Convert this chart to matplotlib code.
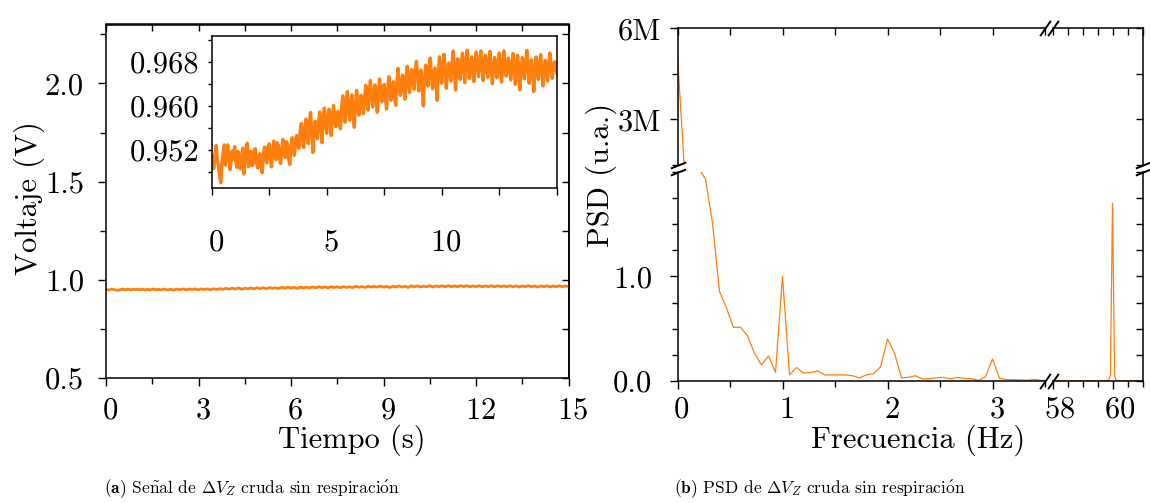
import numpy as np
import matplotlib.pyplot as plt
import matplotlib.transforms as mtransforms
from matplotlib.ticker import MultipleLocator, FixedLocator, FuncFormatter, FormatStrFormatter

# Estilo tipo LaTeX
plt.rcParams['font.family'] = ['cmr10', 'DejaVu Serif']
plt.rcParams['mathtext.fontset'] = 'cm'
plt.rcParams['axes.formatter.use_mathtext'] = True
plt.rcParams['font.size'] = 22
plt.rcParams['axes.linewidth'] = 1.1
plt.rcParams['xtick.major.width'] = 1.0
plt.rcParams['ytick.major.width'] = 1.0
plt.rcParams['xtick.minor.width'] = 1.0
plt.rcParams['ytick.minor.width'] = 1.0

NARANJA = '#ff7f0e'

# Señal cruda (mV), un valor cada 0.05 s de 0 a 15 s (una fila por segundo)
t_paso = 0.05
voltaje_mv = [
    950.9, 949.2, 948.6, 951.5, 952.8, 950.1, 949.0, 947.2, 946.0, 949.8, 951.6, 952.9, 949.2, 950.4, 952.9, 951.1, 948.4, 949.9, 951.8, 950.3,
    952.6, 950.0, 948.8, 951.7, 951.2, 948.5, 949.5, 952.3, 947.6, 950.2, 952.4, 953.2, 948.9, 950.6, 951.7, 949.1, 949.3, 952.0, 952.2, 949.6,
    948.7, 950.8, 951.3, 949.0, 947.8, 951.2, 952.5, 950.3, 949.6, 952.4, 953.1, 950.7, 948.9, 951.5, 953.6, 951.0, 950.2, 953.3, 952.8, 950.5,
    949.5, 952.1, 953.9, 951.4, 950.6, 953.5, 952.9, 950.2, 949.3, 952.7, 954.2, 952.0, 951.0, 954.0, 954.6, 952.5, 952.3, 955.4, 956.8, 954.1,
    952.4, 955.9, 957.6, 954.6, 953.1, 956.8, 958.8, 955.5, 951.5, 955.0, 957.2, 955.9, 954.0, 957.1, 958.9, 956.4, 953.3, 957.8, 959.6, 956.9,
    955.0, 957.9, 959.4, 956.6, 954.6, 958.1, 960.1, 957.7, 956.2, 958.8, 959.0, 956.9, 955.8, 959.6, 961.8, 959.4, 957.0, 960.6, 962.6, 959.8,
    957.4, 960.4, 962.0, 958.9, 956.1, 959.7, 962.8, 960.5, 958.3, 960.9, 961.9, 959.9, 958.6, 961.6, 963.7, 961.3, 959.2, 962.7, 964.6, 961.9,
    959.8, 962.5, 963.8, 961.0, 958.8, 962.3, 964.9, 962.6, 960.7, 962.9, 963.9, 961.6, 959.4, 963.0, 965.3, 963.2, 961.0, 963.5, 964.4, 962.1,
    960.1, 964.2, 966.8, 963.9, 961.9, 964.4, 965.6, 963.0, 961.2, 965.0, 967.2, 964.8, 962.4, 965.1, 966.6, 964.2, 963.0, 966.3, 968.1, 965.6,
    962.7, 965.0, 966.5, 963.2, 960.0, 964.5, 967.4, 965.9, 963.6, 966.8, 968.7, 966.0, 963.1, 965.4, 966.9, 963.8, 961.0, 965.7, 968.9, 966.5,
    964.1, 967.3, 969.4, 966.6, 963.2, 966.0, 967.8, 965.8, 964.5, 967.9, 970.0, 966.9, 962.9, 966.2, 968.6, 966.9, 964.8, 967.7, 969.6, 967.0,
    964.2, 968.0, 970.1, 967.3, 965.0, 967.6, 968.9, 966.5, 964.4, 967.8, 969.8, 967.6, 965.3, 968.3, 970.0, 967.2, 964.6, 967.4, 969.2, 966.8,
    965.2, 968.1, 969.9, 966.7, 964.0, 966.9, 968.8, 966.9, 965.1, 967.8, 969.6, 966.9, 964.3, 967.6, 970.0, 967.8, 965.4, 967.5, 968.7, 966.5,
    964.7, 967.6, 969.5, 966.5, 963.9, 967.0, 969.2, 966.2, 962.9, 966.4, 968.8, 967.0, 964.9, 968.1, 970.1, 967.3, 964.1, 966.9, 968.4, 965.9,
    962.6, 966.2, 968.9, 967.1, 964.8, 967.6, 969.3, 966.4, 963.6, 966.5, 968.3, 966.9, 964.5, 967.8, 969.6, 967.5, 965.0, 966.9, 968.0, 967.4,
    966.0,
]

# PSD, resolución 1/15 Hz desde 0 Hz
df = 1 / 15
psd_bajo = [
    5.1e6, 1.3e6, 40.0, 2.034, 1.93, 1.51, 0.856, 0.697, 0.511, 0.514,
    0.431, 0.265, 0.153, 0.24, 0.083, 1.0, 0.058, 0.128, 0.077, 0.08,
    0.096, 0.058, 0.058, 0.058, 0.058, 0.05, 0.03, 0.058, 0.07, 0.134,
    0.40, 0.265, 0.03, 0.035, 0.05, 0.02, 0.022, 0.03, 0.035, 0.02,
    0.035, 0.025, 0.022, 0.006, 0.04, 0.21, 0.025, 0.013, 0.013, 0.01,
    0.008, 0.015, 0.005, 0.004,
]
f_alto = [57.93, 58.47, 59.0, 59.53, 59.87, 59.93, 60.0, 60.07, 60.13, 60.6, 61.07]
psd_alto = [0.004, 0.003, 0.004, 0.003, 0.005, 0.06, 1.70, 0.05, 0.004, 0.003, 0.003]

t = np.arange(len(voltaje_mv)) * t_paso
v = np.array(voltaje_mv) / 1000
f = np.concatenate([np.arange(len(psd_bajo)) * df, f_alto])
psd = np.concatenate([psd_bajo, psd_alto])

W, H = 1150, 503
fig = plt.figure(figsize=(W / 100, H / 100), dpi=100)


def caja(x0, y0, x1, y1):
    return [x0 / W, 1 - y1 / H, (x1 - x0) / W, (y1 - y0) / H]


def correr_etiquetas(a, dx=4):
    # las etiquetas del original quedan algo a la derecha de su marca
    off = mtransforms.ScaledTranslation(dx / 100, 0, fig.dpi_scale_trans)
    for lab in a.get_xticklabels():
        lab.set_transform(lab.get_transform() + off)


# ---------------- (a) señal ----------------
ax = fig.add_axes(caja(106.2, 24.5, 568.6, 378))
ax.plot(t, v, color=NARANJA, lw=2.0)
ax.set_xlim(0, 15)
ax.set_ylim(0.5, 2.3)
ax.xaxis.set_major_locator(MultipleLocator(3))
ax.xaxis.set_minor_locator(MultipleLocator(1.5))
ax.yaxis.set_major_locator(MultipleLocator(0.5))
ax.yaxis.set_minor_locator(MultipleLocator(0.25))
ax.yaxis.set_major_formatter(FormatStrFormatter('%.1f'))
ax.tick_params(which='both', direction='out')
ax.tick_params(which='major', length=6)
ax.tick_params(which='minor', length=4)
ax.tick_params(axis='y', pad=10)
ax.tick_params(axis='x', pad=8)

sec_x = ax.secondary_xaxis('top')
sec_x.xaxis.set_major_locator(MultipleLocator(3))
sec_x.xaxis.set_minor_locator(MultipleLocator(1.5))
sec_x.tick_params(which='both', direction='in', labeltop=False, length=5)
sec_y = ax.secondary_yaxis('right')
sec_y.yaxis.set_major_locator(MultipleLocator(0.5))
sec_y.yaxis.set_minor_locator(MultipleLocator(0.25))
sec_y.tick_params(which='both', direction='in', labelright=False, length=5)

ins = fig.add_axes(caja(211.6, 36, 556.8, 188.3))
ins.plot(t, v, color=NARANJA, lw=2.4)
ins.set_xlim(0, 15)
ins.set_ylim(0.945, 0.9727)
ins.xaxis.set_major_locator(FixedLocator([0, 5, 10]))
ins.xaxis.set_minor_locator(MultipleLocator(2.5))
ins.yaxis.set_major_locator(FixedLocator([0.952, 0.960, 0.968]))
ins.yaxis.set_minor_locator(MultipleLocator(0.004))
ins.yaxis.set_major_formatter(FormatStrFormatter('%.3f'))
ins.tick_params(which='both', direction='out')
ins.tick_params(axis='x', which='both', length=5, pad=24)
ins.tick_params(axis='y', which='both', length=3, pad=6)

fig.text(29.6 / W, 1 - 198 / H, 'Voltaje (V)', rotation=90, ha='center', va='center')
fig.text(352 / W, 1 - 440 / H, 'Tiempo (s)', ha='center', va='center')

# ---------------- (b) PSD con ejes cortados ----------------
x0, xc1, xc2, x1 = 677.5, 1045, 1052.5, 1142.5
y0, yc1, yc2, y1 = 28.3, 165, 171.7, 381
ax_tl = fig.add_axes(caja(x0, y0, xc1, yc1))
ax_tr = fig.add_axes(caja(xc2, y0, x1, yc1))
ax_bl = fig.add_axes(caja(x0, yc2, xc1, y1))
ax_br = fig.add_axes(caja(xc2, yc2, x1, y1))

for a in (ax_tl, ax_tr, ax_bl, ax_br):
    a.plot(f, psd, color=NARANJA, lw=0.9)
    a.tick_params(which='major', length=6)
    a.tick_params(which='minor', length=4)

for a in (ax_tl, ax_bl):
    a.set_xlim(0, 3.5)
    a.xaxis.set_major_locator(MultipleLocator(1))
    a.xaxis.set_minor_locator(MultipleLocator(0.5))
    a.spines['right'].set_visible(False)
for a in (ax_tr, ax_br):
    a.set_xlim(58, 61)
    a.xaxis.set_major_locator(MultipleLocator(2))
    a.xaxis.set_minor_locator(MultipleLocator(0.5))
    a.spines['left'].set_visible(False)
for a in (ax_tl, ax_tr):
    a.set_ylim(1.5e6, 6e6)
    a.yaxis.set_major_locator(MultipleLocator(3e6))
    a.yaxis.set_minor_locator(MultipleLocator(1.5e6))
    a.spines['bottom'].set_visible(False)
    a.tick_params(axis='x', which='both', direction='in', bottom=False, top=True,
                  labelbottom=False, length=5)
for a in (ax_bl, ax_br):
    a.set_ylim(0, 2.0)
    a.yaxis.set_major_locator(FixedLocator([0, 1]))
    a.yaxis.set_minor_locator(MultipleLocator(0.25))
    a.yaxis.set_major_formatter(FormatStrFormatter('%.1f'))
    a.spines['top'].set_visible(False)
    a.tick_params(axis='x', which='both', direction='out', pad=5)

ax_tl.yaxis.set_major_formatter(FuncFormatter(lambda val, pos: f'{val / 1e6:.0f}M'))
ax_tl.tick_params(axis='y', which='both', direction='out', pad=6)
ax_bl.tick_params(axis='y', which='both', direction='out', pad=12)
for a in (ax_tr, ax_br):
    a.tick_params(axis='y', which='both', direction='in', left=False, right=True,
                  labelleft=False, length=5)

# Marcas de corte
corte_y = dict(marker=[(-1, -0.4), (1, 0.4)], markersize=11, linestyle='none',
               color='k', mec='k', mew=1.4, clip_on=False)
corte_x = dict(marker=[(-0.7, -1), (0.7, 1)], markersize=11, linestyle='none',
               color='k', mec='k', mew=1.4, clip_on=False)
ax_tl.plot([0], [0], transform=ax_tl.transAxes, **corte_y)
ax_bl.plot([0], [1], transform=ax_bl.transAxes, **corte_y)
ax_tr.plot([1], [0], transform=ax_tr.transAxes, **corte_y)
ax_br.plot([1], [1], transform=ax_br.transAxes, **corte_y)
ax_bl.plot([1], [0], transform=ax_bl.transAxes, **corte_x)
ax_br.plot([0], [0], transform=ax_br.transAxes, **corte_x)
ax_tl.plot([1], [1], transform=ax_tl.transAxes, **corte_x)
ax_tr.plot([0], [1], transform=ax_tr.transAxes, **corte_x)

fig.text(601.6 / W, 1 - 175 / H, 'PSD (u.a.)', rotation=90, ha='center', va='center')
fig.text(918 / W, 1 - 440 / H, 'Frecuencia (Hz)', ha='center', va='center')

for a in (ax, ins, ax_bl):
    correr_etiquetas(a, 4)
correr_etiquetas(ax_br, 7)

# Pies de figura
fig.text(104 / W, 1 - 489 / H,
         r'$\mathbf{(a)}$ Se$\tilde{\mathrm{n}}$al de $\Delta V_Z$ cruda sin respiraci$\acute{\mathrm{o}}$n',
         fontsize=12.5, ha='left', va='center')
fig.text(674 / W, 1 - 489 / H,
         r'$\mathbf{(b)}$ PSD de $\Delta V_Z$ cruda sin respiraci$\acute{\mathrm{o}}$n',
         fontsize=12.5, ha='left', va='center')

fig.savefig('out.png', dpi=100)
